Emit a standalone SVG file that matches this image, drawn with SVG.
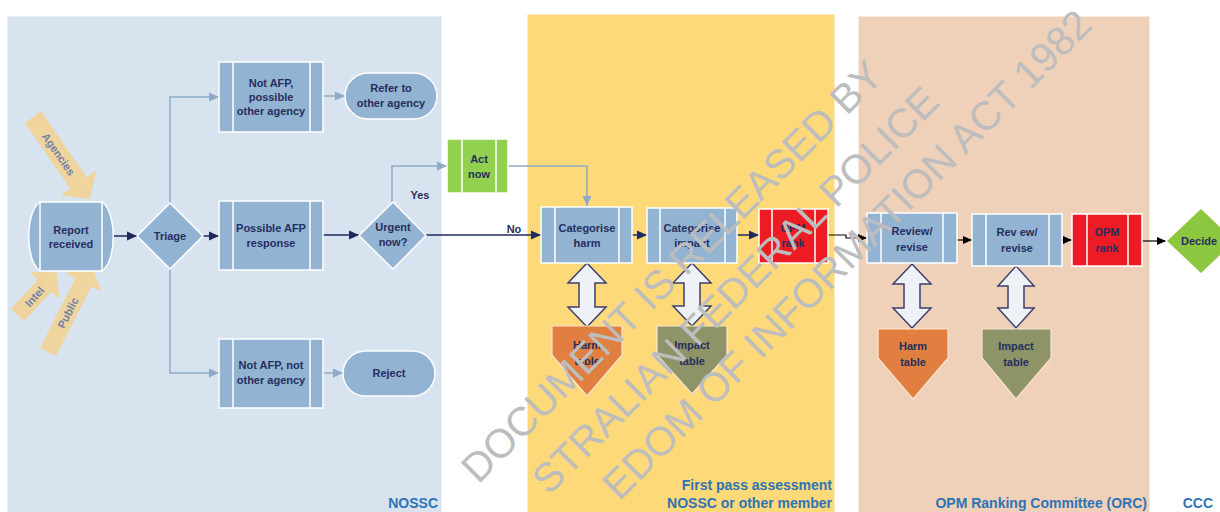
<svg xmlns="http://www.w3.org/2000/svg" width="1220" height="512" viewBox="0 0 1220 512">
<defs>
<marker id="mD" markerUnits="userSpaceOnUse" markerWidth="10" markerHeight="10" refX="10" refY="5" orient="auto"><path d="M0,0.5 L10,5 L0,9.5 Z" fill="#1f2a5c"/></marker>
<marker id="mL" markerUnits="userSpaceOnUse" markerWidth="10" markerHeight="10" refX="10" refY="5" orient="auto"><path d="M0,0.5 L10,5 L0,9.5 Z" fill="#8faac6"/></marker>
<marker id="mB" markerUnits="userSpaceOnUse" markerWidth="9" markerHeight="8" refX="9" refY="4" orient="auto"><path d="M0,0 L9,4 L0,8 Z" fill="#000"/></marker>
</defs>
<style>
.lane{stroke:#fff;stroke-width:1}
.proc{fill:#93b3d3;stroke:#fff;stroke-width:1.5}
.red{fill:#ed1c24;stroke:#fff;stroke-width:1.5}
.grn{fill:#92d050;stroke:#fff;stroke-width:1.5}
.bar{fill:none;stroke:#fff;stroke-width:1.5}
.t{font-family:"Liberation Sans",Arial,sans-serif;font-size:11px;font-weight:bold;fill:#262e5e;text-anchor:middle}
.lbl{font-family:"Liberation Sans",Arial,sans-serif;font-size:14px;font-weight:bold;fill:#2e74b5;text-anchor:end}
.cd{fill:none;stroke:#1f2a5c;stroke-width:1.5;marker-end:url(#mD)}
.cl{fill:none;stroke:#8faac6;stroke-width:1.5;marker-end:url(#mL)}
.cb{fill:none;stroke:#000;stroke-width:1.2;marker-end:url(#mB)}
.dbl{fill:#eef2f7;stroke:#3c3f6e;stroke-width:1.5}
.in{fill:#efd59d}
.it{font-family:"Liberation Sans",Arial,sans-serif;font-size:11px;font-weight:bold;fill:#6f82a6;text-anchor:middle}
.wm{font-family:"Liberation Sans",Arial,sans-serif;font-size:40.5px;fill:#bdbdbd;text-anchor:end}
</style>

<g id="lanes">
<rect class="lane" x="7" y="16" width="435" height="500" fill="#d7e3ef"/>
<rect class="lane" x="527" y="14" width="308" height="502" fill="#fdd979"/>
<rect class="lane" x="858" y="16" width="292" height="500" fill="#efd0b9"/>
</g>

<g id="inputs">
<g id="in-agencies" transform="translate(33,117) rotate(55.4)">
<path class="in" d="M0,-10 H80 V-22 L100,0 L80,22 V10 H0 Z"/>
<text class="it" x="45" y="4">Agencies</text>
</g>
<g id="in-intel" transform="translate(17.5,315) rotate(-47.4)">
<path class="in" d="M0,-9 H40 V-20 L58,0 L40,20 V9 H0 Z"/>
<text class="it" x="25" y="4">Intel</text>
</g>
<g id="in-public" transform="translate(48,352) rotate(-63)">
<path class="in" d="M0,-9 H78 V-20 L97,0 L78,20 V9 H0 Z"/>
<text class="it" x="44" y="4">Public</text>
</g>
</g>

<g id="connectors">
<path class="cd" d="M113,236 H137"/>
<path class="cd" d="M203,236 H219"/>
<path class="cl" d="M170,203 V97 H219"/>
<path class="cl" d="M170,269 V373 H219"/>
<path class="cl" d="M323,96 H345"/>
<path class="cl" d="M323,373 H343"/>
<path class="cd" d="M323,235 H359"/>
<path class="cl" d="M392,202 V166 H447"/>
<path class="cd" d="M426,235 H541"/>
<path class="cl" d="M507,166 H587 V206"/>
<path class="cd" d="M632,235 H647"/>
<path class="cd" d="M737,235 H759"/>
<path class="cb" d="M828,235 H846 V238 H867"/>
<path class="cb" d="M957,240 H972"/>
<path class="cb" d="M1062,240 H1072"/>
<path class="cb" d="M1142,241 H1166"/>
<text class="t" x="420" y="199">Yes</text>
<text class="t" x="514" y="233">No</text>
<path class="dbl" d="M587,263 L606,283 L595,283 L595,307 L606,307 L587,327 L568,307 L579,307 L579,283 L568,283 Z"/>
<path class="dbl" d="M692,263 L711,283 L700,283 L700,306 L711,306 L692,326 L673,306 L684,306 L684,283 L673,283 Z"/>
<path class="dbl" d="M912,264 L931,284 L920,284 L920,308 L931,308 L912,328 L893,308 L904,308 L904,284 L893,284 Z"/>
<path class="dbl" d="M1016,266 L1034,286 L1024,286 L1024,308 L1034,308 L1016,328 L998,308 L1008,308 L1008,286 L998,286 Z"/>
</g>

<g id="report-received">
<path class="proc" d="M40,202 H102 C117,212 117,261 102,271 H40 C25,261 25,212 40,202 Z"/>
<path class="bar" d="M40,202 V271 M102,202 V271"/>
<text class="t" x="71" y="234">Report</text>
<text class="t" x="71" y="248">received</text>
</g>

<g id="triage">
<path class="proc" d="M170,203 L203,236 L170,269 L137,236 Z"/>
<text class="t" x="170" y="240">Triage</text>
</g>

<g id="not-afp-possible">
<rect class="proc" x="219" y="62" width="104" height="70"/>
<path class="bar" d="M233,62 V132 M310,62 V132"/>
<text class="t" x="271" y="87">Not AFP,</text>
<text class="t" x="271" y="101">possible</text>
<text class="t" x="271" y="115">other agency</text>
</g>

<g id="refer">
<rect class="proc" x="345" y="73" width="92" height="46" rx="23"/>
<text class="t" x="391" y="92">Refer to</text>
<text class="t" x="391" y="107">other agency</text>
</g>

<g id="possible-afp">
<rect class="proc" x="219" y="201" width="104" height="69"/>
<path class="bar" d="M233,201 V270 M310,201 V270"/>
<text class="t" x="271" y="232">Possible AFP</text>
<text class="t" x="271" y="247">response</text>
</g>

<g id="urgent">
<path class="proc" d="M393,202 L426,235.5 L393,269 L359,235.5 Z"/>
<text class="t" x="393" y="231">Urgent</text>
<text class="t" x="393" y="246">now?</text>
</g>

<g id="not-afp-not">
<rect class="proc" x="219" y="339" width="104" height="69"/>
<path class="bar" d="M233,339 V408 M310,339 V408"/>
<text class="t" x="271" y="369">Not AFP, not</text>
<text class="t" x="271" y="384">other agency</text>
</g>

<g id="reject">
<rect class="proc" x="343" y="351" width="92" height="45" rx="22.5"/>
<text class="t" x="389" y="377">Reject</text>
</g>

<g id="act-now">
<rect class="grn" x="447" y="139" width="61" height="54"/>
<path class="bar" d="M462,139 V193 M496,139 V193"/>
<text class="t" x="479" y="163">Act</text>
<text class="t" x="479" y="178">now</text>
</g>

<g id="cat-harm">
<rect class="proc" x="541" y="207" width="91" height="56"/>
<path class="bar" d="M555,207 V263 M619,207 V263"/>
<text class="t" x="587" y="232">Categorise</text>
<text class="t" x="587" y="247">harm</text>
</g>

<g id="cat-impact">
<rect class="proc" x="647" y="208" width="90" height="55"/>
<path class="bar" d="M660,208 V263 M725,208 V263"/>
<text class="t" x="692" y="232">Categorise</text>
<text class="t" x="692" y="247">impact</text>
</g>

<g id="opm-rank-1">
<rect class="red" x="759" y="209" width="69" height="54"/>
<path class="bar" d="M772,209 V263 M815,209 V263"/>
<text class="t" x="793" y="232">OPM</text>
<text class="t" x="793" y="247">rank</text>
</g>

<g id="harm-table-1">
<path d="M552,326 H622 V355 L587,396 L552,355 Z" fill="#e07f40" stroke="#fbe3cf" stroke-width="1.2"/>
<text class="t" x="587" y="349">Harm</text>
<text class="t" x="587" y="365">table</text>
</g>

<g id="impact-table-1">
<path d="M657,326 H727 V355 L692,394 L657,355 Z" fill="#8f9468" stroke="#fbe3cf" stroke-width="1.2"/>
<text class="t" x="692" y="349">Impact</text>
<text class="t" x="692" y="365">table</text>
</g>

<g id="review-1">
<rect class="proc" x="867" y="213" width="90" height="50"/>
<path class="bar" d="M881,213 V263 M943,213 V263"/>
<text class="t" x="912" y="235">Review/</text>
<text class="t" x="912" y="251">revise</text>
</g>

<g id="review-2">
<rect class="proc" x="972" y="214" width="90" height="52"/>
<path class="bar" d="M986,214 V266 M1049,214 V266"/>
<text class="t" x="1017" y="236">Rev ew/</text>
<text class="t" x="1017" y="252">revise</text>
</g>

<g id="opm-rank-2">
<rect class="red" x="1072" y="214" width="70" height="52"/>
<path class="bar" d="M1087,214 V266 M1128,214 V266"/>
<text class="t" x="1107" y="236">OPM</text>
<text class="t" x="1107" y="252">rank</text>
</g>

<g id="harm-table-2">
<path d="M878,329 H948 V358 L913,399 L878,358 Z" fill="#e07f40" stroke="#fbe3cf" stroke-width="1.2"/>
<text class="t" x="913" y="350">Harm</text>
<text class="t" x="913" y="366">table</text>
</g>

<g id="impact-table-2">
<path d="M982,329 H1051 V358 L1016,399 L982,358 Z" fill="#8f9468" stroke="#fbe3cf" stroke-width="1.2"/>
<text class="t" x="1016" y="350">Impact</text>
<text class="t" x="1016" y="366">table</text>
</g>

<g id="decide">
<path d="M1201,208 L1236,241 L1201,274 L1166,241 Z" fill="#8dc63f" stroke="#fff" stroke-width="1.5"/>
<text class="t" x="1199" y="245">Decide</text>
</g>

<g id="lane-labels">
<text class="lbl" x="438" y="508">NOSSC</text>
<text class="lbl" x="832" y="490">First pass assessment</text>
<text class="lbl" x="832" y="508">NOSSC or other member</text>
<text class="lbl" x="1147" y="508">OPM Ranking Committee (ORC)</text>
<text class="lbl" x="1213" y="508">CCC</text>
</g>

<g id="watermark" class="wm">
<text transform="translate(885,78) rotate(-45)">DOCUMENT IS RELEASED BY</text>
<text transform="translate(941,104) rotate(-45)">STRALIAN FEDERAL POLICE</text>
<text transform="translate(1094,27) rotate(-45)">EDOM OF INFORMATION ACT 1982</text>
</g>
</svg>
